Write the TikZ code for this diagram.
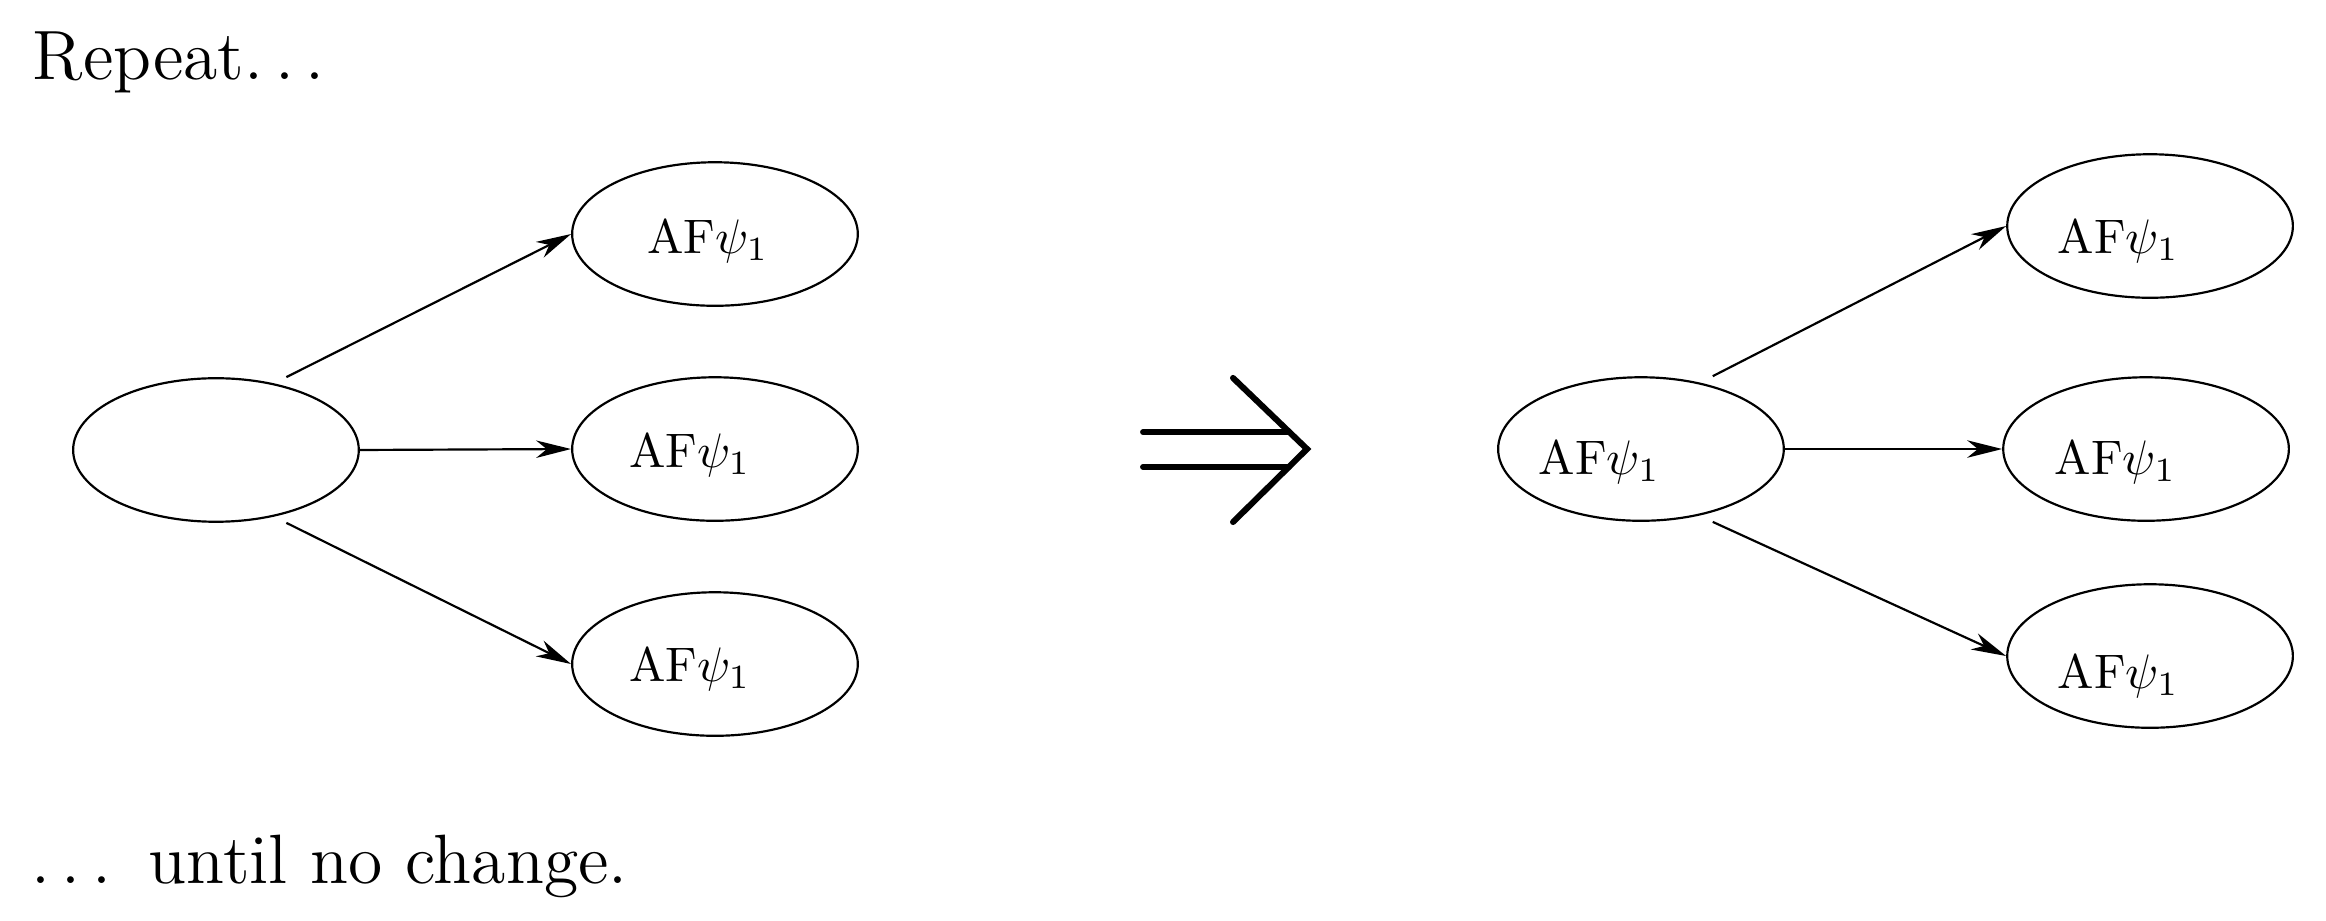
\documentclass[tikz,border=0pt]{standalone}
\usetikzlibrary{shapes.geometric,arrows.meta}

\tikzset{
  state/.style={ellipse, draw, line width=0.45pt, minimum width=2.07cm, minimum height=1.04cm, inner sep=0pt},
  flow/.style={line width=0.45pt, -{Stealth[length=7.2pt,width=3.6pt,inset=2.2pt]}},
  word/.style={anchor=base west, inner sep=0pt, font=\Large}
}

\begin{document}
\begin{tikzpicture}
\useasboundingbox (0,0) rectangle (16.855,6.674);

% Captions
\node[word] (top) at (0.23,6.10) {Repeat$\ldots$};
\node[word] (bottom) at (0.22,0.275) {$\ldots$\ \hspace{3pt}until no change.};

% Left tree
\node[state] (L0) at (1.565,3.413) {};
\node[state] (L1) at (5.181,4.978) {};
\node[state] (L2) at (5.181,3.420) {};
\node[state] (L3) at (5.181,1.862) {};
\node (t1) at (5.13,4.93) {AF$\psi_1$};
\node (t2) at (5.00,3.38) {AF$\psi_1$};
\node (t3) at (5.00,1.83) {AF$\psi_1$};

\draw[flow] ([xshift=0.51cm]L0.north) -- (L1.west);
\draw[flow] (L0.east) -- (L2.west);
\draw[flow] ([xshift=0.51cm]L0.south) -- (L3.west);

% Implication
\draw[line width=1.25pt, line cap=round] (8.283,3.543) -- (9.34,3.543);
\draw[line width=1.25pt, line cap=round] (8.283,3.290) -- (9.34,3.290);
\draw[line width=1.25pt, line cap=round, line join=miter] (8.935,3.935) -- (9.471,3.420) -- (8.935,2.891);

% Right tree
\node[state] (R0) at (11.891,3.420) {};
\node[state] (R1) at (15.580,5.036) {};
\node[state] (R2) at (15.551,3.420) {};
\node[state] (R3) at (15.580,1.920) {};
\node (s0) at (11.59,3.33) {AF$\psi_1$};
\node (s1) at (15.35,4.93) {AF$\psi_1$};
\node (s2) at (15.33,3.33) {AF$\psi_1$};
\node (s3) at (15.35,1.78) {AF$\psi_1$};

\draw[flow] ([xshift=0.52cm]R0.north) -- (R1.west);
\draw[flow] (R0.east) -- (R2.west);
\draw[flow] ([xshift=0.52cm]R0.south) -- (R3.west);

\end{tikzpicture}
\end{document}
